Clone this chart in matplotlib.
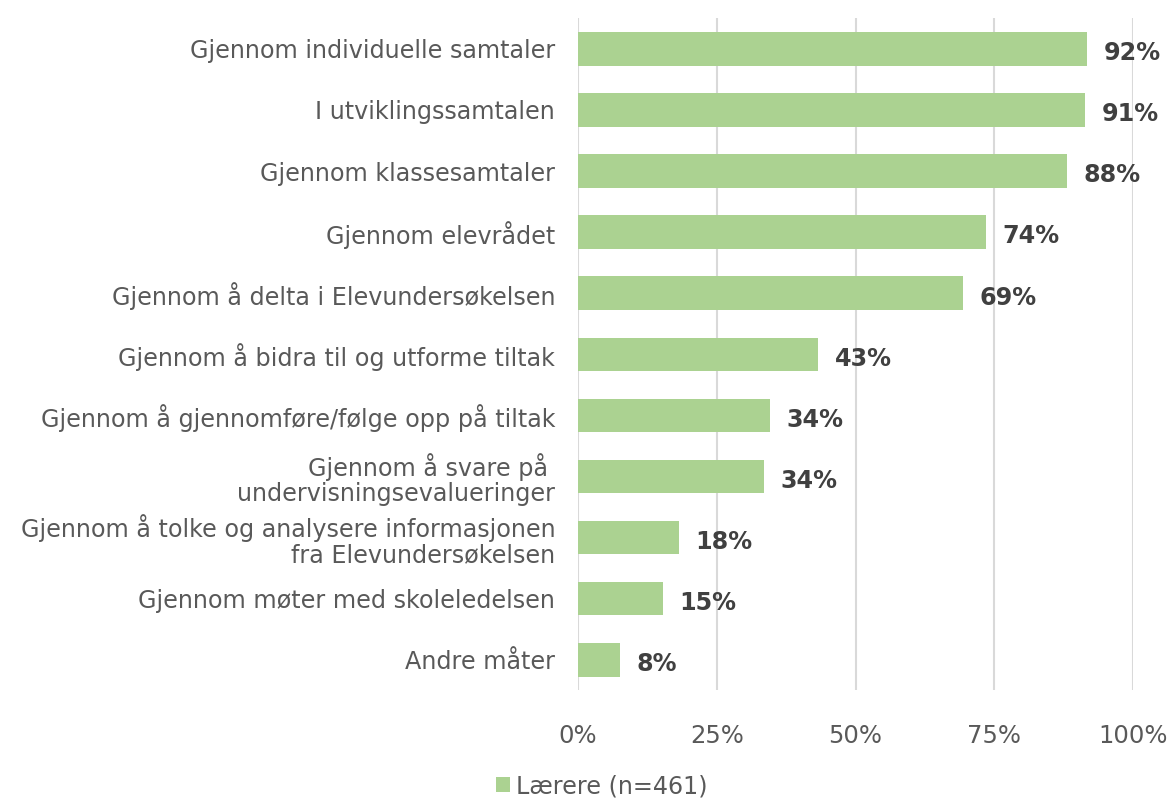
import matplotlib.pyplot as plt
import numpy as np

categories = ["Gjennom individuelle samtaler",
              "I utviklingssamtalen",
              "Gjennom klassesamtaler",
              "Gjennom elevrådet",
              "Gjennom å delta i Elevundersøkelsen",
              "Gjennom å bidra til og utforme tiltak",
              "Gjennom å gjennomføre/følge opp på tiltak",
              "Gjennom å svare på \nundervisningsevalueringer",
              "Gjennom å tolke og analysere informasjonen\nfra Elevundersøkelsen",
              "Gjennom møter med skoleledelsen",
              "Andre måter"]
values = [91.7, 91.4, 88.1, 73.5, 69.4, 43.2, 34.6, 33.5, 18.2, 15.3, 7.6]
labels = ["92%", "91%", "88%", "74%", "69%", "43%", "34%", "34%", "18%", "15%", "8%"]
ticks = [0, 25, 50, 75, 100]
series = "Lærere (n=461)"

plt.rcParams['font.family'] = ['DejaVu Sans']
fig = plt.figure(figsize=(11.68, 7.98), dpi=100)
ax = fig.add_axes([0.4949, 0.135, 0.4752, 0.842])

y = np.arange(len(categories))
ax.barh(y, values, height=0.55, color='#ABD291', label=series, zorder=2)
for yi, v, lab in zip(y, values, labels):
    ax.text(v + 3.0, yi + 0.07, lab, va='center', ha='left', fontsize=17.2,
            fontweight='bold', color='#404040')

ax.set_ylim(len(categories) - 0.5, -0.5)
ax.set_xlim(0, 100)
ax.set_yticks(y)
ax.set_yticklabels(categories, fontsize=17.2, color='#595959', linespacing=1.05)
ax.set_xticks(ticks)
ax.set_xticklabels([f"{t}%" for t in ticks], fontsize=17.5, color='#595959')
ax.tick_params(axis='both', length=0)
ax.tick_params(axis='x', pad=24)
ax.tick_params(axis='y', pad=16.5)
ax.grid(axis='x', color='#D9D9D9', linewidth=1.5, zorder=0)
for s in ax.spines.values():
    s.set_visible(False)

fig.legend(loc='center', bbox_to_anchor=(0.515, 0.015), frameon=False,
           fontsize=17.2, handlelength=0.6, handleheight=0.6, handletextpad=0.25,
           labelcolor='#595959')

fig.savefig('out.png', dpi=100)
